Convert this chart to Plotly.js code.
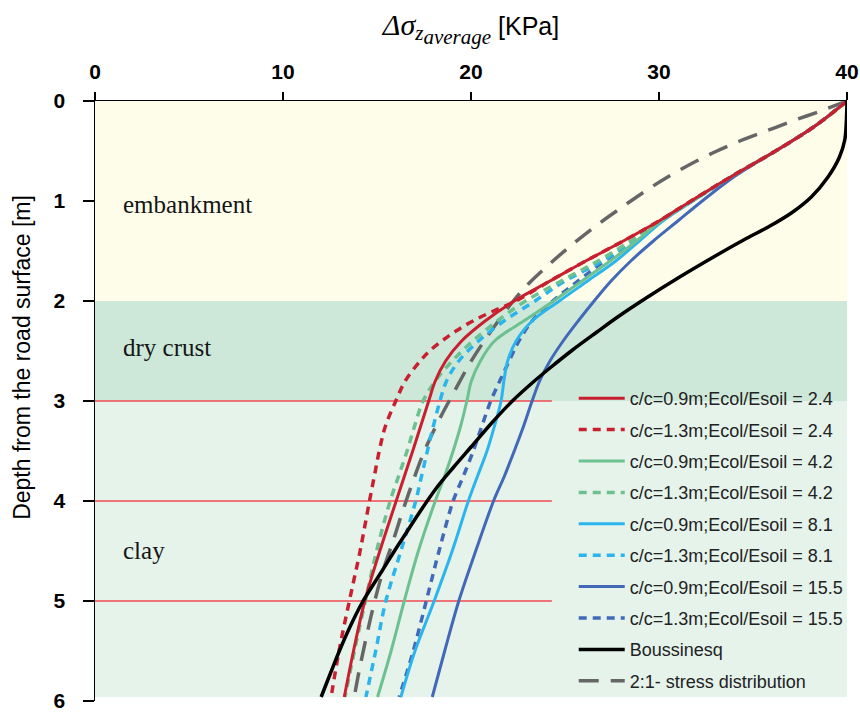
<!DOCTYPE html>
<html>
<head>
<meta charset="utf-8">
<script src="https://cdn.plot.ly/plotly-3.0.1.min.js"></script>
<style>html,body{margin:0;padding:0;background:#fff;}#chart{width:860px;height:712px;}</style>
</head>
<body>
<div id="chart"></div>
<script>
// ---------------- data (stress in kPa, depth in m) ----------------
var seriesNames = [
  "c/c=0.9m;Ecol/Esoil = 2.4",
  "c/c=1.3m;Ecol/Esoil = 2.4",
  "c/c=0.9m;Ecol/Esoil = 4.2",
  "c/c=1.3m;Ecol/Esoil = 4.2",
  "c/c=0.9m;Ecol/Esoil = 8.1",
  "c/c=1.3m;Ecol/Esoil = 8.1",
  "c/c=0.9m;Ecol/Esoil = 15.5",
  "c/c=1.3m;Ecol/Esoil = 15.5",
  "Boussinesq",
  "2:1- stress distribution"
];

var red09_d = [0,0.25,0.5,0.75,1.0,1.2,1.4,1.6,1.8,2.0,2.2,2.4,2.6,2.8,3.0,3.5,4.0,4.5,5.0,5.5,5.96];
var red09_x = [40,38.3,36.2,33.9,31.7,30.0,28.1,26.1,24.2,22.3,20.75,19.5,18.65,18.1,17.75,16.9,16.02,15.15,14.35,13.75,13.26];

var red13_d = [0,0.25,0.5,0.75,1.0,1.2,1.4,1.6,1.8,2.0,2.1,2.2,2.3,2.4,2.5,2.6,2.8,3.0,3.25,3.5,3.75,4.0,4.5,5.0,5.5,5.96];
var red13_x = [40,38.3,36.2,33.9,31.7,30.0,28.1,26.1,24.2,22.4,21.2,20.1,19.2,18.45,17.8,17.3,16.5,16.0,15.45,15.12,14.86,14.6,14.1,13.53,12.98,12.56];

var grn09_d = [0,0.25,0.5,0.75,1.0,1.2,1.4,1.6,1.8,2.0,2.2,2.4,2.6,2.8,3.0,3.25,3.5,3.75,4.0,4.5,5.0,5.5,5.96];
var grn09_x = [40,38.3,36.2,33.9,31.75,30.1,28.8,27.4,25.9,24.4,22.8,21.25,20.5,20.02,19.78,19.45,19.05,18.6,18.1,17.2,16.45,15.75,15.03];

var grn13_d = [0,0.25,0.5,0.75,1.0,1.2,1.4,1.6,1.8,2.0,2.2,2.4,2.6,2.8,3.0,3.25,3.5,3.75,4.0,4.5,5.0,5.5,5.96];
var grn13_x = [40,38.3,36.2,33.9,31.72,30.05,28.5,26.75,24.8,22.9,21.4,20.1,19.0,18.1,17.45,17.0,16.6,16.15,15.7,14.98,14.38,13.8,13.3];

var blu09_d = [0,0.25,0.5,0.75,1.0,1.2,1.4,1.6,1.8,2.0,2.2,2.4,2.6,2.8,3.0,3.25,3.5,3.75,4.0,4.5,5.0,5.5,5.96];
var blu09_x = [40,38.3,36.2,33.9,31.8,30.2,28.95,27.7,26.2,24.7,23.25,22.4,21.95,21.75,21.6,21.25,20.85,20.35,19.86,19.0,18.04,17.02,16.27];

var blu13_d = [0,0.25,0.5,0.75,1.0,1.2,1.4,1.6,1.8,2.0,2.2,2.4,2.6,2.8,3.0,3.25,3.5,3.75,4.0,4.5,5.0,5.5,5.96];
var blu13_x = [40,38.3,36.2,33.9,31.75,30.1,28.6,27.0,25.0,23.4,21.75,20.4,19.35,18.7,18.35,18.0,17.68,17.37,17.06,16.27,15.47,14.93,14.41];

var dbl09_d = [0,0.25,0.5,0.75,1.0,1.2,1.4,1.6,1.8,2.0,2.2,2.4,2.6,2.8,3.0,3.25,3.5,3.75,4.0,4.5,5.0,5.5,5.96];
var dbl09_x = [40,38.3,36.2,34.05,32.3,31.0,29.7,28.5,27.45,26.55,25.7,24.9,24.2,23.65,23.25,22.8,22.3,21.78,21.2,20.25,19.35,18.6,17.94];

var dbl13_d = [0,0.25,0.5,0.75,1.0,1.2,1.4,1.6,1.8,2.0,2.2,2.4,2.6,2.8,3.0,3.25,3.5,3.75,4.0,4.5,5.0,5.5,5.96];
var dbl13_x = [40,38.3,36.2,33.9,31.75,30.1,28.7,27.1,25.7,24.35,23.25,22.55,22.03,21.53,21.05,20.58,20.12,19.6,19.05,18.3,17.62,16.93,16.18];

var bous_d = [0,0.22,0.39,0.56,0.76,0.96,1.12,1.26,1.39,1.56,1.76,1.96,2.16,2.31,2.49,2.67,2.82,3.0,3.22,3.46,3.66,3.86,4.12,4.32,4.49,4.69,4.86,5.02,5.26,5.49,5.72,5.96];
var bous_x = [40,39.96,39.88,39.6,38.99,38.1,37.04,35.81,34.5,32.9,31.1,29.4,27.8,26.7,25.4,24.2,23.25,22.2,21.1,20.0,19.08,18.2,17.24,16.55,15.96,15.3,14.72,14.2,13.56,13.02,12.53,12.03];

var two1_d = [0,0.1,0.2,0.3,0.4,0.52,0.69,0.86,1.04,1.22,1.41,1.61,1.82,2.0,2.2,2.4,2.62,2.91,3.19,3.51,3.81,4.11,4.42,4.71,5.06,5.37,5.67,5.96];
var two1_x = [40,38.6,37.1,35.7,34.3,32.85,31.1,29.6,28.2,26.85,25.55,24.3,23.1,22.25,21.45,20.7,19.95,19.1,18.3,17.5,16.9,16.35,15.82,15.3,14.8,14.42,14.08,13.79];

// soil layers
var layerNames = ["embankment", "dry crust", "clay"];
var layerTop = [0, 2, 3];
var layerBottom = [2, 3, 5.96];
var layerLabelDepth = [1.03, 2.46, 4.49];
var layerLabelX = 1.36;
var layerColors = ["#FEFDEA", "#CDE8D9", "#E5F3EB"];

// red reference lines
var refLineDepths = [3, 4, 5];
var refLineEnd = 24.3;

// tick values
var xTicks = [0, 10, 20, 30, 40];
var yTicks = [0, 1, 2, 3, 4, 5, 6];

// ---------------- traces ----------------
var RED = "#C8202F", GRN = "#6DC190", LBL = "#2BB5EC", DBL = "#4169B8", GRY = "#666666", BLK = "#000000";
var DOT = "8px,6px";

function tr(xs, ds, i, color, dash, width, rank) {
  return {
    x: xs, y: ds, name: seriesNames[i], type: "scatter", mode: "lines",
    line: {color: color, dash: dash, width: width, shape: "spline", smoothing: 1},
    legendgroup: "g" + i, legendrank: rank, hoverinfo: "skip"
  };
}

var traces = [
  tr(two1_x, two1_d, 9, GRY, "20px,12px", 3.5, 10),
  tr(dbl09_x, dbl09_d, 6, DBL, "solid", 3, 7),
  tr(dbl13_x, dbl13_d, 7, DBL, DOT, 3.5, 8),
  tr(blu09_x, blu09_d, 4, LBL, "solid", 3, 5),
  tr(blu13_x, blu13_d, 5, LBL, DOT, 3.5, 6),
  tr(grn09_x, grn09_d, 2, GRN, "solid", 3, 3),
  tr(grn13_x, grn13_d, 3, GRN, DOT, 3.5, 4),
  tr(red13_x, red13_d, 1, RED, DOT, 3.5, 2),
  tr(red09_x, red09_d, 0, RED, "solid", 3, 1),
  tr(bous_x, bous_d, 8, BLK, "solid", 3.5, 9)
];

// ---------------- shapes & annotations ----------------
var shapes = [];
for (var i = 0; i < layerNames.length; i++) {
  shapes.push({type: "rect", xref: "x", yref: "y", x0: xTicks[0], x1: xTicks[xTicks.length - 1],
    y0: layerTop[i], y1: layerBottom[i], fillcolor: layerColors[i], line: {width: 0}, layer: "below"});
}
for (var j = 0; j < refLineDepths.length; j++) {
  shapes.push({type: "line", xref: "x", yref: "y", x0: 0, x1: refLineEnd,
    y0: refLineDepths[j], y1: refLineDepths[j], line: {color: "#F04A50", width: 1.5}, layer: "below"});
}

var annotations = [];
for (var k = 0; k < layerNames.length; k++) {
  annotations.push({xref: "x", yref: "y", x: layerLabelX, y: layerLabelDepth[k], text: layerNames[k],
    showarrow: false, xanchor: "left", yanchor: "middle",
    font: {family: "Liberation Serif, Times New Roman, serif", size: 25, color: "#151515"}});
}
annotations.push({xref: "paper", yref: "paper", x: -0.097, y: 0.572, textangle: -90,
  text: "Depth from the road surface [m]", showarrow: false, xanchor: "center", yanchor: "middle",
  font: {family: "Liberation Sans, Arial, sans-serif", size: 23, color: "#000"}});

var SERIF_I = "font-family:'Liberation Serif',serif;font-style:italic;";
var xTitle = "<span style=\"" + SERIF_I + "font-size:30px\">Δσ</span>" +
  "<sub><span style=\"" + SERIF_I + "font-size:21px\">z</span>" +
  "<sub><span style=\"" + SERIF_I + "font-size:21px\">average</span></sub></sub> [KPa]";

var layout = {
  width: 860, height: 712,
  margin: {l: 95, r: 11, t: 101, b: 11},
  paper_bgcolor: "#fff", plot_bgcolor: "#fff",
  font: {family: "Liberation Sans, Arial, sans-serif", color: "#000"},
  xaxis: {
    side: "top", range: [0, 40], tickvals: xTicks, ticks: "outside", ticklen: 8, tickwidth: 1.5,
    tickcolor: "#000", showline: true, linecolor: "#000", linewidth: 1.5, showgrid: false, zeroline: false,
    tickfont: {family: "Liberation Sans, Arial, sans-serif", size: 21, weight: "bold", color: "#000"},
    ticklabelstandoff: 4, ticklabeloverflow: "allow",
    title: {text: xTitle,
      font: {family: "Liberation Sans, Arial, sans-serif", size: 25, color: "#000"}, standoff: 17}
  },
  yaxis: {
    range: [6, 0], tickvals: yTicks, ticks: "outside", ticklen: 11, tickwidth: 1.5,
    tickcolor: "#000", showline: true, linecolor: "#000", linewidth: 1.5, showgrid: false, zeroline: false,
    tickfont: {family: "Liberation Sans, Arial, sans-serif", size: 21, weight: "bold", color: "#000"},
    ticklabelstandoff: 13, ticklabeloverflow: "allow"
  },
  showlegend: true,
  legend: {
    x: 0.6366, y: 0.535, xanchor: "left", yanchor: "top", bgcolor: "rgba(0,0,0,0)", borderwidth: 0,
    traceorder: "grouped", tracegroupgap: 5, itemwidth: 46,
    font: {family: "Liberation Sans, Arial, sans-serif", size: 18, color: "#222"}
  },
  shapes: shapes,
  annotations: annotations
};

Plotly.newPlot("chart", traces, layout, {displayModeBar: false, staticPlot: true});
</script>
</body>
</html>
